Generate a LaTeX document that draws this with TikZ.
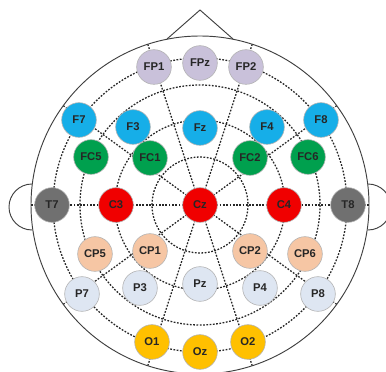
\documentclass[tikz,border=0pt]{standalone}
\usepackage{fontspec}
\setmainfont{Liberation Sans}
\usetikzlibrary{backgrounds}
\definecolor{fpcol}{RGB}{201,193,218}
\definecolor{fcol}{RGB}{22,174,232}
\definecolor{fccol}{RGB}{0,160,78}
\definecolor{ccol}{RGB}{240,0,0}
\definecolor{tcol}{RGB}{112,112,112}
\definecolor{cpcol}{RGB}{246,198,164}
\definecolor{pcol}{RGB}{222,230,242}
\definecolor{ocol}{RGB}{255,192,0}
\begin{document}
\begin{tikzpicture}[x=0.03cm, y=-0.03cm,
    electrode/.style={circle, draw=gray!60, line width=0.5pt, minimum size=1.04cm, inner sep=0pt,
      font=\fontsize{9.6}{9.6}\selectfont\bfseries, text=black!85},
    gridline/.style={black!85, line width=1.1pt, dash pattern=on 1.5pt off 1.3pt},
    outline/.style={black!75, line width=0.8pt}]
    \useasboundingbox (0,0) rectangle (386,372);
    % head, nose and ears
    \draw[outline] (200,205) circle[radius=169];
    \draw[outline] (167,39) -- (200,10) -- (233,39);
    \draw[outline] (32,184) arc[start angle=270, end angle=90, radius=23];
    \draw[outline] (368,184) arc[start angle=270, end angle=450, radius=23];
    % electrodes
    \foreach \n/\x/\y/\c in {FP1/154/67/fpcol, FPz/200/63/fpcol, FP2/246/67/fpcol,
        F7/79/120/fcol, F3/133/127/fcol, Fz/200/128/fcol, F4/267/127/fcol, F8/321/120/fcol,
        FC5/91/157/fccol, FC1/150/158/fccol, FC2/250/158/fccol, FC6/308/157/fccol,
        T7/52/205/tcol, C3/116/205/ccol, Cz/200/205/ccol, C4/284/205/ccol, T8/348/205/tcol,
        CP5/95/254/cpcol, CP1/150/251/cpcol, CP2/250/251/cpcol, CP6/305/254/cpcol,
        P7/82/294/pcol, P3/140/288/pcol, Pz/200/284/pcol, P4/260/288/pcol, P8/318/294/pcol,
        O1/152/342/ocol, Oz/200/352/ocol, O2/248/342/ocol}
      \node[electrode, fill=\c] (\n) at (\x,\y) {\n};
    % grid behind the electrodes
    \begin{scope}[on background layer]
      \foreach \r in {48,85,120,147}
        \draw[gridline] (Cz.center) circle[radius=\r];
      \foreach \a [evaluate=\a as \t using \a-90] in {18,54,...,342} {
        \coordinate (rim\a) at ([shift={(200,205)}]\t:169);
        \draw[gridline] (Cz.center) -- (rim\a);
      }
    \end{scope}
\end{tikzpicture}
\end{document}
